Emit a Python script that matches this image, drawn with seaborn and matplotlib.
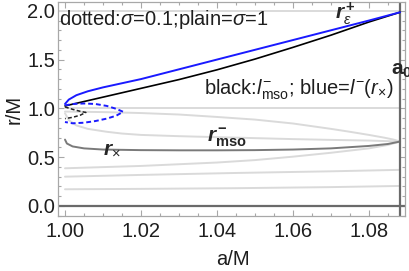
import matplotlib
matplotlib.use("Agg")
import matplotlib.pyplot as plt
import seaborn as sns
from matplotlib.ticker import MultipleLocator

# ---- data ----
a0 = 1.0882

a_blue = [1.0, 1.001, 1.003, 1.006, 1.01, 1.02, 1.03, 1.04, 1.05, 1.06, 1.07, 1.08, 1.0882]
r_blue = [1.045, 1.09, 1.135, 1.175, 1.215, 1.30, 1.40, 1.50, 1.60, 1.70, 1.80, 1.90, 1.985]

a_black = [1.0, 1.01, 1.02, 1.03, 1.04, 1.05, 1.06, 1.07, 1.08, 1.0882]
r_black = [1.025, 1.115, 1.205, 1.295, 1.395, 1.505, 1.625, 1.75, 1.885, 1.985]

a_blue_dot = [1.0, 1.002, 1.005, 1.008, 1.011, 1.0135, 1.0153, 1.0135, 1.011, 1.008, 1.005, 1.002, 1.0]
r_blue_dot = [1.03, 1.045, 1.05, 1.045, 1.025, 0.995, 0.965, 0.925, 0.895, 0.87, 0.853, 0.847, 0.86]

a_black_dot = [1.0, 1.002, 1.004, 1.0055, 1.004, 1.002, 1.0]
r_black_dot = [1.015, 0.99, 0.97, 0.958, 0.93, 0.908, 0.895]

a_r1 = [1.0, 1.0882]
r_r1 = [1.0, 1.0]
a_r2 = [0.998, 1.0882]
r_r2 = [2.0, 2.0]

a_upper = [1.0, 1.01, 1.02, 1.03, 1.04, 1.05, 1.06, 1.07, 1.075, 1.08, 1.084, 1.0865, 1.0882]
r_upper = [0.967, 0.962, 0.952, 0.937, 0.912, 0.885, 0.845, 0.79, 0.76, 0.728, 0.70, 0.68, 0.66]

a_lower = [1.0, 1.001, 1.003, 1.006, 1.011, 1.015, 1.02, 1.03, 1.04, 1.05, 1.06, 1.07, 1.08, 1.0882]
r_lower = [0.95, 0.88, 0.825, 0.79, 0.76, 0.742, 0.728, 0.715, 0.705, 0.695, 0.685, 0.677, 0.67, 0.66]

a_rx = [1.0, 1.0005, 1.002, 1.005, 1.01, 1.02, 1.03, 1.04, 1.05, 1.06, 1.07, 1.08, 1.085, 1.0882]
r_rx = [0.68, 0.64, 0.61, 0.59, 0.578, 0.572, 0.57, 0.57, 0.572, 0.578, 0.59, 0.615, 0.635, 0.66]

a_c = [1.0, 1.02, 1.04, 1.05, 1.06, 1.07, 1.08, 1.085, 1.0882]
r_c = [0.386, 0.41, 0.445, 0.47, 0.505, 0.545, 0.59, 0.625, 0.66]

a_d = [1.0, 1.02, 1.045, 1.07, 1.0882]
r_d = [0.30, 0.318, 0.338, 0.355, 0.37]

a_e = [1.0, 1.02, 1.045, 1.07, 1.0882]
r_e = [0.171, 0.175, 0.182, 0.193, 0.205]

x_ticks = [1.00, 1.02, 1.04, 1.06, 1.08]
y_ticks = [0.0, 0.5, 1.0, 1.5, 2.0]

# ---- style ----
sns.set_theme(style="ticks")
plt.rcParams['font.family'] = ['Liberation Sans', 'DejaVu Sans']
plt.rcParams['mathtext.fontset'] = 'custom'
plt.rcParams['mathtext.rm'] = 'Liberation Sans'
plt.rcParams['mathtext.it'] = 'Liberation Sans:italic'
plt.rcParams['mathtext.bf'] = 'Liberation Sans:bold'
plt.rcParams['mathtext.bfit'] = 'Liberation Sans:italic:bold'

frame = '#a8a8a8'
light = '#dadada'
txt = '#1e1e1e'

fig = plt.figure(figsize=(4.09, 2.71), dpi=100)
ax = fig.add_axes([58 / 409, 55 / 271, 347 / 409, 214 / 271])

def curve(a, r, color, lw, ls='-'):
    sns.lineplot(x=a, y=r, sort=False, estimator=None, ax=ax,
                 color=color, linewidth=lw, linestyle=ls)

# light gray background family
curve(a_r1, r_r1, light, 1.4)
curve(a_r2, r_r2, light, 1.4)
curve(a_upper, r_upper, light, 1.4)
curve(a_lower, r_lower, light, 1.4)
curve(a_c, r_c, light, 1.4)
curve(a_d, r_d, light, 1.4)
curve(a_e, r_e, light, 1.4)
curve(a_rx, r_rx, '#7a7a7a', 1.4)

ax.axhline(0, color='#6a6a6a', lw=1.6)
ax.axvline(a0, color='#6a6a6a', lw=1.6)

curve(a_black, r_black, 'black', 1.2)
curve(a_blue, r_blue, '#1a1aff', 1.4)
curve(a_blue_dot, r_blue_dot, '#1a1aff', 1.4, (0, (2.5, 1.5)))
curve(a_black_dot, r_black_dot, '#222222', 1.1, (0, (2.5, 1.5)))

ax.set_xlim(0.99816, 1.0895)
ax.set_ylim(-0.103, 2.09)
ax.set_xticks(x_ticks)
ax.set_xticklabels([f"{v:.2f}" for v in x_ticks])
ax.set_yticks(y_ticks)
ax.set_yticklabels([f"{v:.1f}" for v in y_ticks])
ax.xaxis.set_minor_locator(MultipleLocator(0.005))
ax.yaxis.set_minor_locator(MultipleLocator(0.1))
ax.tick_params(which='both', direction='in', top=True, right=True, color=frame,
               width=0.8, labelsize=14.5, labelcolor=txt)
ax.tick_params(axis='x', which='major', pad=4)
ax.tick_params(axis='y', which='major', pad=2)
ax.tick_params(which='major', length=4)
ax.tick_params(which='minor', length=2.5)
for s in ax.spines.values():
    s.set_color(frame)
    s.set_linewidth(0.9)

ax.set_xlabel('a/M', fontsize=14.5, color=txt)
ax.set_ylabel('r/M', fontsize=14.5, color=txt)
ax.xaxis.set_label_coords(0.504, -0.16)
ax.yaxis.set_label_coords(-0.10, 0.5)

ax.text(0.9984, 1.91, r'dotted:$\sigma$=0.1;plain=$\sigma$=1', fontsize=14.5,
        va='center', ha='left', color=txt)
ax.text(1.0366, 1.19, r'black:$l^{-}_{\rm mso}$; blue=$l^{-}(r_{\times})$', fontsize=14.5,
        va='center', ha='left', color=txt)
ax.text(1.071, 1.975, r'$\mathbfit{r}^{\bf +}_{\epsilon}$', fontsize=15, va='center', ha='left')
ax.text(1.0858, 1.39, r'$\mathbf{a}_{\mathbf{0}}$', fontsize=15, va='center', ha='left',
        clip_on=False)
ax.text(1.0374, 0.70, r'$\mathbfit{r}^{\bf -}_{\bf mso}$', fontsize=15, va='center', ha='left')
ax.text(1.010, 0.585, r'$\mathbfit{r}_{\times}$', fontsize=15, va='center', ha='left')

fig.savefig('out.png', dpi=100)
